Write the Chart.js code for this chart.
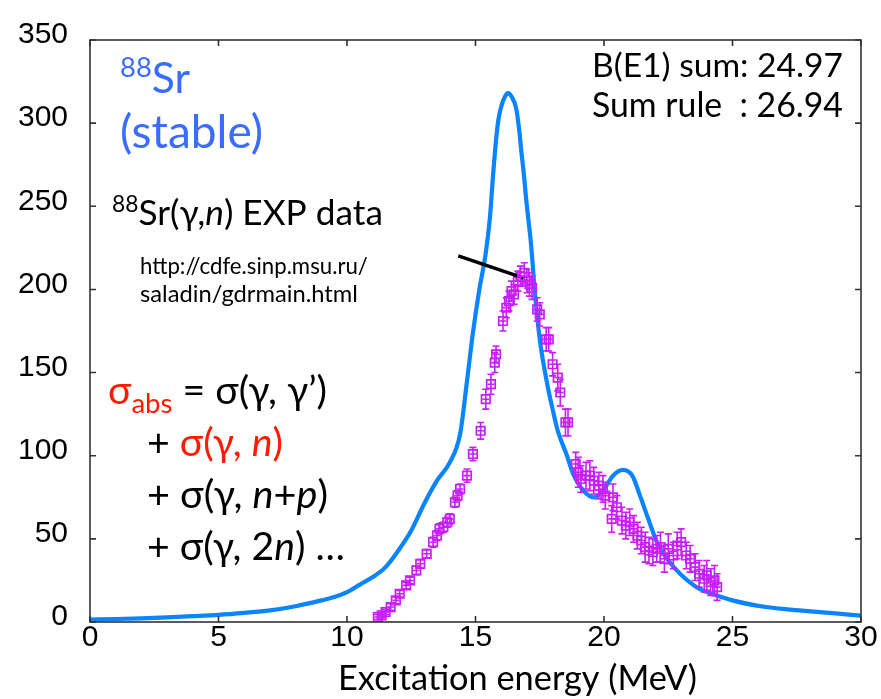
<!DOCTYPE html>
<html><head><meta charset="utf-8">
<script src="https://cdn.jsdelivr.net/npm/chart.js@4.4.1/dist/chart.umd.min.js"></script>
<style>html,body{margin:0;padding:0;background:#fff}#wrap{width:881px;height:699px}</style>
</head><body><div id="wrap"><canvas id="c" width="881" height="699"></canvas></div>
<script>
// ---- data ----
const calcEnergy = [0,1,2,3,4,5,6,7,8,9,9.5,10,10.5,11,11.5,12,12.5,13,13.5,14,14.4,14.67,14.9,15.15,15.4,15.56,15.69,15.8,15.89,16.02,16.15,16.26,16.4,16.58,16.7,16.79,16.89,16.96,17.05,17.15,17.22,17.3,17.5,17.78,18.0,18.2,18.56,18.8,19.2,19.6,19.96,20.35,20.74,21.1,21.4,21.7,22.06,22.45,22.96,23.7,24.2,25.0,26.3,27.6,28.9,30];
const calcSigma  = [1.5,1.8,2.2,2.8,3.5,4.3,5.5,7,9.5,13,15,18,22.5,27,33,43,55,71,85,96,113,145,174,200,222,243,270,290,302,311,316,318,316,309,296,282,268,256,243,229,216,200,170,144,128,115,100,89,79,75,79,88,91.5,88,76,63,48,38,29,20,17,13,9,7,5.3,3.8];

const expEnergy = [11.2,11.35,11.5,11.7,11.9,12.05,12.3,12.45,12.7,12.85,13.1,13.35,13.5,13.6,13.75,13.9,14.0,14.2,14.3,14.4,14.67,14.9,15.2,15.4,15.6,15.75,15.8,16.07,16.2,16.3,16.4,16.5,16.65,16.75,16.9,17.0,17.1,17.2,17.4,17.5,17.75,17.85,18.0,18.2,18.3,18.5,18.6,18.9,19.0,19.1,19.3,19.45,19.6,19.8,19.96,20.05,20.3,20.35,20.5,20.7,20.85,21.0,21.15,21.3,21.45,21.6,21.75,21.9,22.05,22.2,22.35,22.5,22.7,22.85,23.0,23.2,23.35,23.55,23.7,23.9,24.0,24.15,24.3,24.4];
const expSigma  = [3,4,6,9,13,17,22,25,31,35,41,48,52,56,57,60,62,72,76,80,88,101,115,134,143,156,161,181,189,193,199,197,205,208,210,205,203,201,188,185,170,170,155,147,138,120,120,95,90,86,88,88,85,82,80,76,62,75,69,61,58,60,56,52,49,45,43,42,44,45,38,44,40,46,48,40,38,33,29,26,28,24,25,21];
const expError  = [1.5,1.5,1.5,2,2,2,2,2,2.5,2.5,2.5,3,3,3,3,3,3,3,3,3,4,4,5,6,6,6,5,6,6,6,6,6,6,6,6,7,7,7,7,7,7,7,7,8,8,8,8,7,9,8,8,9,8,8,8,8,8,8,7,8,8,8,8,8,8,9,8,8,8,9,8,9,8,8,8,8,8,8,8,8,9,8,9,8];

const pointerEnergy = [14.33, 16.86];
const pointerSigma  = [220.2, 207.0];

const xTickValues = [0,5,10,15,20,25,30];
const yTickValues = [0,50,100,150,200,250,300,350];

// ---- styles ----
const BLUE_LINE = '#0a84ff';
const MAG = 'rgb(200,30,250)';
const BLUE_TXT = '#3a6cff';
const RED = '#ff1a00';
const FAM = 'Lato, "Open Sans", sans-serif';
const TICKFAM = '"Liberation Sans", Arial, sans-serif';

const toXY = (xs, ys) => xs.map((x, i) => ({x, y: ys[i]}));

const textLines = [
  {x0:120, x1:190, base:93,  segs:[{t:'88', size:27, dy:-16, color:BLUE_TXT},{t:'Sr', size:42, color:BLUE_TXT}]},
  {x0:120, x1:263, base:148, segs:[{t:'(stable)', size:42, color:BLUE_TXT}]},
  {x0:112, x1:383, base:225, segs:[{t:'88', size:22, dy:-13},{t:'Sr(γ,', size:34},{t:'n', size:34, italic:true},{t:') EXP data', size:34}]},
  {x0:140, x1:368, base:274, segs:[{t:'http://cdfe.sinp.msu.ru/', size:22}]},
  {x0:140, x1:358, base:302, segs:[{t:'saladin/gdrmain.html', size:22}]},
  {x0:108, x1:327, base:404, segs:[{t:'σ', size:34, color:RED},{t:'abs', size:24, dy:8, color:RED},{t:' = σ(γ, γ’)', size:34}]},
  {x0:147, x1:283, base:456, segs:[{t:'+ ', size:34},{t:'σ(γ, ', size:34, color:RED},{t:'n', size:34, italic:true, color:RED},{t:')', size:34, color:RED}]},
  {x0:147, x1:328, base:508, segs:[{t:'+ σ(γ, ', size:34},{t:'n', size:34, italic:true},{t:'+', size:34},{t:'p', size:34, italic:true},{t:')', size:34}]},
  {x0:147, x1:345, base:560, segs:[{t:'+ σ(γ, 2', size:34},{t:'n', size:34, italic:true},{t:') …', size:34}]},
  {x0:592, x1:843, base:77,  segs:[{t:'B(E1) sum: 24.97', size:31}]},
  {x0:592, x1:843, base:117, segs:[{t:'Sum rule  : 26.94', size:31}]},
  {x0:338, x1:697, base:690, segs:[{t:'Excitation energy (MeV)', size:34}]}
];

function fontStr(s, k) { return (s.italic ? 'italic ' : '') + (s.size * k).toFixed(2) + 'px ' + FAM; }
function drawLine(ctx, L) {
  let total = 0;
  L.segs.forEach(s => { ctx.font = fontStr(s, 1); total += ctx.measureText(s.t).width; });
  const k = (L.x1 - L.x0) / total;
  let x = L.x0;
  ctx.textAlign = 'left'; ctx.textBaseline = 'alphabetic';
  L.segs.forEach(s => {
    ctx.font = fontStr(s, k);
    ctx.fillStyle = s.color || '#000';
    ctx.fillText(s.t, x, L.base + (s.dy || 0) * k);
    x += ctx.measureText(s.t).width;
  });
}

const decorPlugin = {
  id: 'decor',
  afterDatasetsDraw(chart) {
    const ctx = chart.ctx, xs = chart.scales.x, ys = chart.scales.y, a = chart.chartArea;
    ctx.save();
    // error bars
    ctx.strokeStyle = MAG; ctx.lineWidth = 1.6;
    expEnergy.forEach((e, i) => {
      const px = xs.getPixelForValue(e);
      const py = ys.getPixelForValue(expSigma[i]);
      const p1 = ys.getPixelForValue(expSigma[i] - expError[i]);
      const p2 = ys.getPixelForValue(expSigma[i] + expError[i]);
      const h1 = xs.getPixelForValue(e - 0.13), h2 = xs.getPixelForValue(e + 0.13);
      ctx.beginPath();
      ctx.moveTo(px, p1); ctx.lineTo(px, p2);
      ctx.moveTo(px - 3.5, p1); ctx.lineTo(px + 3.5, p1);
      ctx.moveTo(px - 3.5, p2); ctx.lineTo(px + 3.5, p2);
      ctx.moveTo(h1, py); ctx.lineTo(h2, py);
      ctx.stroke();
    });
    // frame
    ctx.strokeStyle = '#333'; ctx.lineWidth = 1.6;
    ctx.strokeRect(a.left, a.top, a.right - a.left, a.bottom - a.top);
    // inward ticks
    ctx.beginPath();
    xTickValues.forEach(v => {
      const px = xs.getPixelForValue(v);
      ctx.moveTo(px, a.bottom); ctx.lineTo(px, a.bottom - 6);
      ctx.moveTo(px, a.top); ctx.lineTo(px, a.top + 6);
    });
    yTickValues.forEach(v => {
      const py = ys.getPixelForValue(v);
      ctx.moveTo(a.left, py); ctx.lineTo(a.left + 6, py);
      ctx.moveTo(a.right, py); ctx.lineTo(a.right - 6, py);
    });
    ctx.stroke();
    // texts
    textLines.forEach(L => drawLine(ctx, L));
    ctx.restore();
  }
};

new Chart(document.getElementById('c'), {
  type: 'scatter',
  data: {
    datasets: [
      { label: 'pointer', type: 'line', data: toXY(pointerEnergy, pointerSigma), borderColor: '#000', borderWidth: 3.5, pointRadius: 0, showLine: true, order: -1 },
      { label: '88Sr(γ,n) EXP', data: toXY(expEnergy, expSigma), pointStyle: 'rect', pointRadius: 6, borderColor: MAG, borderWidth: 1.7, backgroundColor: 'rgba(0,0,0,0)', showLine: false, order: 0 },
      { label: 'calc', type: 'line', data: toXY(calcEnergy, calcSigma), borderColor: BLUE_LINE, borderWidth: 4.2, pointRadius: 0, cubicInterpolationMode: 'monotone', showLine: true, order: 1 }
    ]
  },
  options: {
    responsive: false, animation: false, devicePixelRatio: 1,
    layout: { padding: { left: 0, right: 20, top: 28, bottom: 0 } },
    plugins: { legend: { display: false }, tooltip: { enabled: false } },
    scales: {
      x: {
        type: 'linear', min: 0, max: 30,
        afterFit: s => { s.height = 77; },
        afterBuildTicks: s => { s.ticks = xTickValues.map(v => ({value: v})); },
        grid: { display: false, drawTicks: false }, border: { display: false },
        ticks: { color: '#000', padding: 1, font: { family: TICKFAM, size: 30, lineHeight: 1 } }
      },
      y: {
        type: 'linear', min: 0, max: 350,
        afterFit: s => { s.width = 90; },
        afterBuildTicks: s => { s.ticks = yTickValues.map(v => ({value: v})); },
        grid: { display: false, drawTicks: false }, border: { display: false },
        ticks: { color: '#000', padding: 22, labelOffset: -5, font: { family: TICKFAM, size: 30 } }
      }
    }
  },
  plugins: [decorPlugin]
});
</script>
</body></html>
